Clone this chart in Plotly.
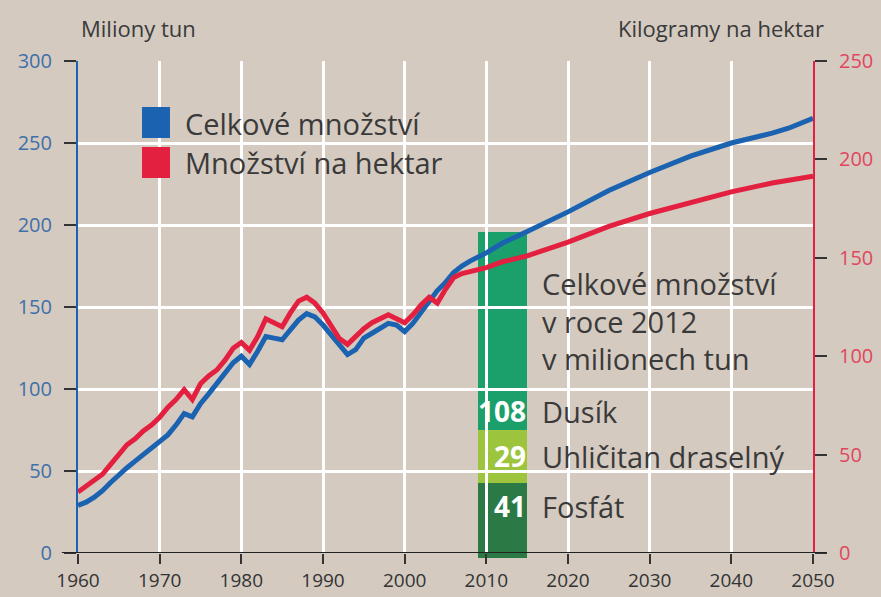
import plotly.graph_objects as go

# ---------------- data ----------------
years = [1960, 1961, 1962, 1963, 1964, 1965, 1966, 1967, 1968, 1969,
         1970, 1971, 1972, 1973, 1974, 1975, 1976, 1977, 1978, 1979,
         1980, 1981, 1982, 1983, 1984, 1985, 1986, 1987, 1988, 1989,
         1990, 1991, 1992, 1993, 1994, 1995, 1996, 1997, 1998, 1999,
         2000, 2001, 2002, 2003, 2004, 2005, 2006, 2007, 2008,
         2010, 2012, 2015, 2020, 2025, 2030, 2035, 2040, 2045, 2047, 2050]

# total use, million tonnes (left axis)
total_mt = [29, 31, 34, 38, 43, 48, 52, 56, 60, 64,
            68, 72, 78, 85, 83, 91, 97, 103, 110, 116,
            120, 115, 123, 132, 131, 130, 136, 142, 146, 144,
            139, 133, 126, 121, 124, 131, 134, 137, 140, 139,
            135, 140, 147, 154, 160, 165, 171, 175, 178,
            183, 189, 196, 208, 221, 232, 242, 250, 256, 259, 265]

# use per hectare, kg/ha (right axis)
per_ha_kg = [31, 34, 37, 40, 45, 50, 55, 58, 62, 65,
             69, 74, 78, 83, 78, 86, 90, 93, 98, 104,
             107, 103, 110, 119, 117, 115, 122, 128, 130, 127,
             122, 116, 109, 106, 110, 114, 117, 119, 121, 119,
             117, 121, 126, 130, 127, 134, 140, 142, 143,
             145, 148, 151, 158, 166, 172.5, 178, 183.5, 188, 189.5, 191.5]

bar_year = 2012
bar_names = ["Fosfát", "Uhličitan draselný", "Dusík"]
bar_values = [41, 29, 108]

x_ticks = [1960, 1970, 1980, 1990, 2000, 2010, 2020, 2030, 2040, 2050]
left_ticks = [0, 50, 100, 150, 200, 250, 300]
right_ticks = [0, 50, 100, 150, 200, 250]

legend_names = ["Celkové množství", "Množství na hektar"]
left_title = "Miliony tun"
right_title = "Kilogramy na hektar"
bar_title = "Celkové množství<br>v roce 2012<br>v milionech tun"

# ---------------- style ----------------
BG = "#d4cac0"
BLUE = "#1b63b1"
RED = "#e3203f"
BAR_COLORS = ["#2b7a45", "#9cc43c", "#1ba06b"]
TEXT = "#3a3a3a"
FONT = "Open Sans"

fig = go.Figure()

# stacked bar (own hidden axes so that the main grid sits above it)
for name, val, col in zip(bar_names, bar_values, BAR_COLORS):
    fig.add_trace(go.Bar(x=[bar_year], y=[val], width=6, name=name,
                         marker=dict(color=col, line=dict(width=0)),
                         xaxis="x", yaxis="y", showlegend=False,
                         hoverinfo="skip"))

fig.add_trace(go.Scatter(x=years, y=total_mt, mode="lines", name=legend_names[0],
                         line=dict(color=BLUE, width=5), xaxis="x2", yaxis="y2",
                         showlegend=False))
fig.add_trace(go.Scatter(x=years, y=per_ha_kg, mode="lines", name=legend_names[1],
                         line=dict(color=RED, width=5), xaxis="x2", yaxis="y3",
                         showlegend=False))

fig.update_layout(
    template="none",
    width=881, height=597,
    margin=dict(l=78, r=68, t=61, b=39, autoexpand=False),
    paper_bgcolor=BG, plot_bgcolor="rgba(0,0,0,0)",
    barmode="stack", showlegend=False,
    font=dict(family=FONT, color=TEXT),
    xaxis=dict(domain=[0, 1], range=[1960, 2050], visible=False, anchor="y",
               automargin=False),
    yaxis=dict(domain=[0, 1], range=[0, 271.4], visible=False, anchor="x",
               automargin=False),
    xaxis2=dict(domain=[0, 1], range=[1960, 2050], anchor="y2", automargin=False,
                tickvals=x_ticks, ticks="outside", ticklen=10, tickwidth=2,
                tickcolor="#333333", showgrid=True, gridcolor="white", gridwidth=2.5,
                showline=False, zeroline=False,
                tickfont=dict(size=19, color="#333333", family=FONT)),
    yaxis2=dict(domain=[5 / 497, 1], range=[0, 300], anchor="x2", automargin=False,
                tickvals=left_ticks, ticks="outside", ticklen=12, tickwidth=2,
                tickcolor="#333333", showline=True, linecolor=BLUE, linewidth=2,
                showgrid=True, gridcolor="white", gridwidth=2.5, zeroline=False,
                ticklabelstandoff=8,
                tickfont=dict(size=20, color="#4070a8", family=FONT)),
    yaxis3=dict(overlaying="y2", side="right", anchor="x2", range=[0, 250],
                automargin=False,
                tickvals=right_ticks, ticks="outside", ticklen=12, tickwidth=2,
                tickcolor="#333333", showline=True, linecolor=RED, linewidth=2,
                showgrid=False, zeroline=False, ticklabelstandoff=8,
                tickfont=dict(size=20, color="#e0475e", family=FONT)),
)

# x axis baseline extending past the plot
fig.add_shape(type="line", xref="paper", yref="y2", x0=-0.022, x1=1.018, y0=0, y1=0,
              line=dict(color="#222222", width=2), layer="above")


def py(p):
    return (558 - p) / 497


def px(p):
    return (p - 78) / 735


# custom legend
for i, (name, col) in enumerate(zip(legend_names, [BLUE, RED])):
    top = 107 + 40 * i
    fig.add_shape(type="rect", xref="paper", yref="paper",
                  x0=px(142), x1=px(170), y0=py(top + 31), y1=py(top),
                  fillcolor=col, line=dict(width=0), layer="above")
    fig.add_annotation(xref="paper", yref="paper", x=px(183), y=py(123 + 39 * i),
                       text=name, showarrow=False, xanchor="left", yanchor="middle",
                       font=dict(size=29, color=TEXT, family=FONT))

# axis titles
fig.add_annotation(xref="paper", yref="paper", x=px(79), y=py(28), text=left_title,
                   showarrow=False, xanchor="left", yanchor="middle",
                   font=dict(size=22, color=TEXT, family=FONT))
fig.add_annotation(xref="paper", yref="paper", x=px(826), y=py(28), text=right_title,
                   showarrow=False, xanchor="right", yanchor="middle",
                   font=dict(size=22, color=TEXT, family=FONT))

# bar annotations
fig.add_annotation(xref="paper", yref="paper", x=px(540), y=py(321), text=bar_title,
                   showarrow=False, xanchor="left", yanchor="middle", align="left",
                   font=dict(size=29, color=TEXT, family=FONT))
label_y = [506, 456, 411]
for name, val, ly in zip(bar_names, bar_values, label_y):
    fig.add_annotation(xref="paper", yref="paper", x=px(540), y=py(ly), text=name,
                       showarrow=False, xanchor="left", yanchor="middle",
                       font=dict(size=29, color=TEXT, family=FONT))
    fig.add_annotation(xref="x2", yref="paper", x=bar_year + 3, y=py(ly),
                       text="<b>%d</b>" % val, showarrow=False, xanchor="right",
                       yanchor="middle", xshift=1,
                       font=dict(size=28, color="white", family=FONT))

fig.write_html("out.html",
               config={"displayModeBar": False},
               post_script="document.body.style.margin='0';"
                           "document.body.style.overflow='hidden';")
